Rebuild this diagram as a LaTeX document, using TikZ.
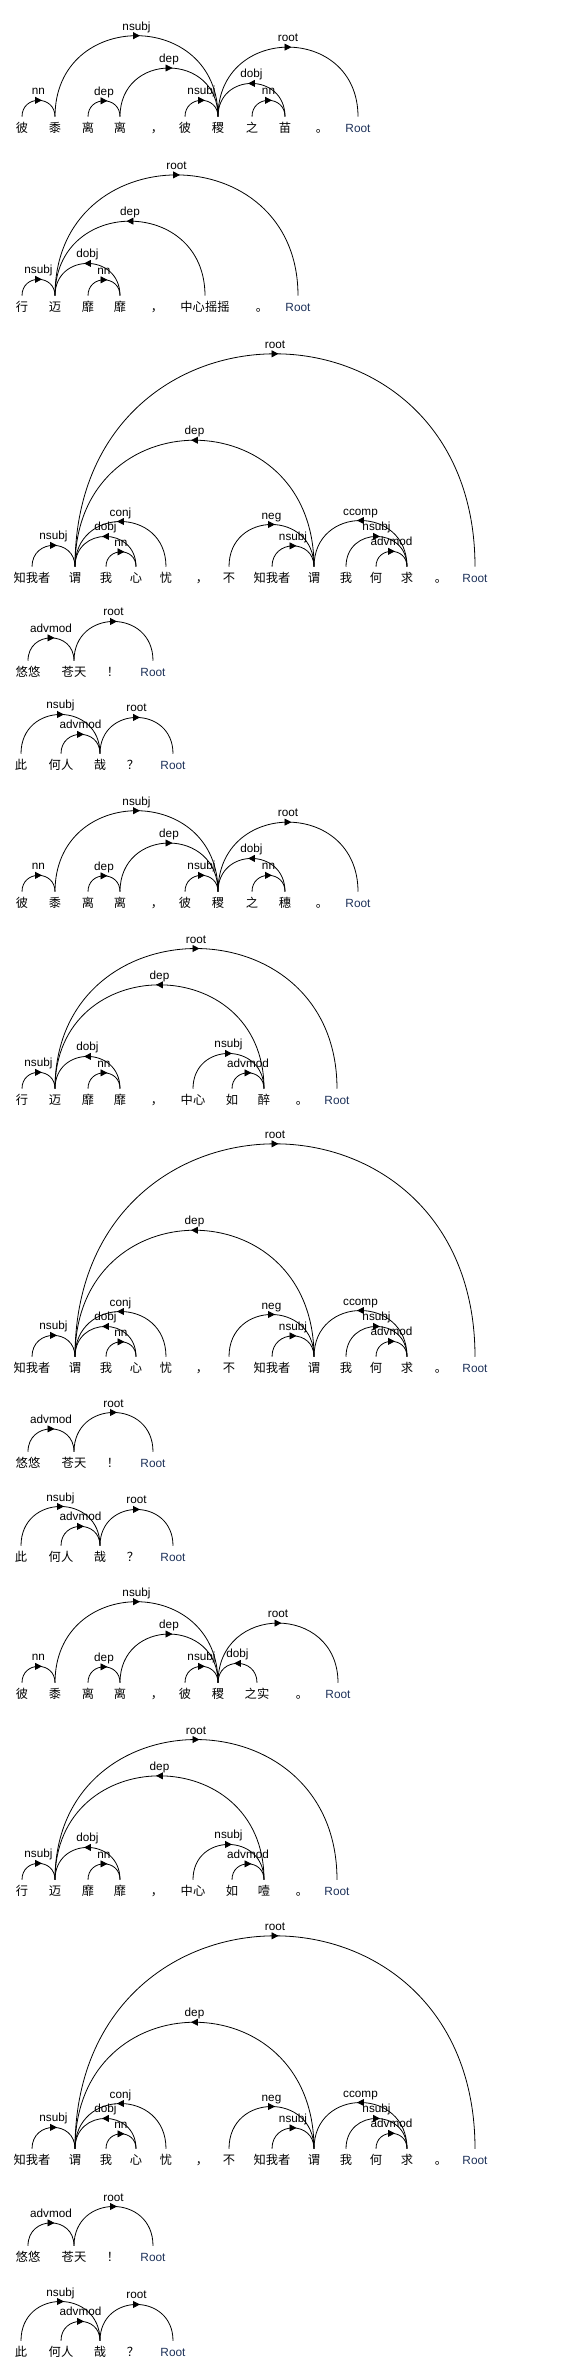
\documentclass[tikz,border=0pt]{standalone}
\usepackage{fontspec}
\setmainfont{Liberation Sans}
\newfontfamily\cjk{Noto Sans CJK SC}
\usetikzlibrary{arrows.meta,decorations.markings}
\definecolor{rootblue}{RGB}{30,50,90}
\def\deparc[#1](#2)(#3)#4{\draw[deprel,#1] (#2.north) to node[rel] {#4} (#3.north);}

\tikzset{
  word/.style={font=\cjk\fontsize{9.2}{11}\selectfont, inner xsep=0pt, inner ysep=4.1pt, text height=7.6pt, text depth=0.7pt},
  punct/.style={word, xshift=3pt},
  rootword/.style={word, font=\fontsize{8.9}{11}\selectfont, text=rootblue},
  rel/.style={font=\fontsize{8.8}{10}\selectfont, inner sep=0pt, text height=6.4pt, text depth=1.9pt, above=1.9pt},
  deprel/.style={line width=0.6pt, out=90, in=90, looseness=1.7, postaction={decorate},
    decoration={markings, mark=at position 0.5 with {\arrow[xshift=2.6pt]{Triangle[length=5.2pt,width=5.2pt]}}}}
}

\begin{document}
\begin{tikzpicture}[x=0.75pt, y=0.75pt]
	\useasboundingbox (0,0) rectangle (581,-2373);
	
	% sentence 1
	\begin{scope}[shift={(0,-128)}]
		\node[word] (s1-1) at (22,0) {彼};
		\node[word] (s1-2) at (55,0) {黍};
		\node[word] (s1-3) at (88,0) {离};
		\node[word] (s1-4) at (120,0) {离};
		\node[punct] (s1-5) at (153,0) {，};
		\node[word] (s1-6) at (185,0) {彼};
		\node[word] (s1-7) at (218,0) {稷};
		\node[word] (s1-8) at (252,0) {之};
		\node[word] (s1-9) at (285,0) {苗};
		\node[punct] (s1-10) at (318,0) {。};
		\node[rootword] (s1-11) at (358,0) {Root};
		\deparc[](s1-1)(s1-2){nn}
		\deparc[](s1-3)(s1-4){dep}
		\deparc[](s1-6)(s1-7){nsubj}
		\deparc[](s1-8)(s1-9){nn}
		\deparc[](s1-9)(s1-7){dobj}
		\deparc[](s1-4)(s1-7){dep}
		\deparc[](s1-7)(s1-11){root}
		\deparc[](s1-2)(s1-7){nsubj}
	\end{scope}
	
	% sentence 2
	\begin{scope}[shift={(0,-307)}]
		\node[word] (s2-1) at (22,0) {行};
		\node[word] (s2-2) at (55,0) {迈};
		\node[word] (s2-3) at (88,0) {靡};
		\node[word] (s2-4) at (120,0) {靡};
		\node[punct] (s2-5) at (153,0) {，};
		\node[word] (s2-6) at (205,0) {中心摇摇};
		\node[punct] (s2-7) at (258,0) {。};
		\node[rootword] (s2-8) at (298,0) {Root};
		\deparc[](s2-1)(s2-2){nsubj}
		\deparc[](s2-3)(s2-4){nn}
		\deparc[](s2-4)(s2-2){dobj}
		\deparc[](s2-6)(s2-2){dep}
		\deparc[](s2-2)(s2-8){root}
	\end{scope}
	
	% sentence 3
	\begin{scope}[shift={(0,-578)}]
		\node[word] (s3-1) at (32,0) {知我者};
		\node[word] (s3-2) at (75,0) {谓};
		\node[word] (s3-3) at (106,0) {我};
		\node[word] (s3-4) at (136,0) {心};
		\node[word] (s3-5) at (166,0) {忧};
		\node[punct] (s3-6) at (198,0) {，};
		\node[word] (s3-7) at (229,0) {不};
		\node[word] (s3-8) at (272,0) {知我者};
		\node[word] (s3-9) at (314,0) {谓};
		\node[word] (s3-10) at (346,0) {我};
		\node[word] (s3-11) at (376,0) {何};
		\node[word] (s3-12) at (407,0) {求};
		\node[punct] (s3-13) at (437,0) {。};
		\node[rootword] (s3-14) at (475,0) {Root};
		\deparc[](s3-1)(s3-2){nsubj}
		\deparc[](s3-3)(s3-4){nn}
		\deparc[](s3-4)(s3-2){dobj}
		\deparc[](s3-5)(s3-2){conj}
		\deparc[](s3-7)(s3-9){neg}
		\deparc[](s3-8)(s3-9){nsubj}
		\deparc[](s3-11)(s3-12){advmod}
		\deparc[](s3-10)(s3-12){nsubj}
		\deparc[](s3-12)(s3-9){ccomp}
		\deparc[looseness=1.81](s3-9)(s3-2){dep}
		\deparc[looseness=1.82](s3-2)(s3-14){root}
	\end{scope}
	
	% sentence 4
	\begin{scope}[shift={(0,-672)}]
		\node[word] (s4-1) at (28,0) {悠悠};
		\node[word] (s4-2) at (74,0) {苍天};
		\node[word] (s4-3) at (113,0) {！};
		\node[rootword] (s4-4) at (153,0) {Root};
		\deparc[](s4-1)(s4-2){advmod}
		\deparc[](s4-2)(s4-4){root}
	\end{scope}
	
	% sentence 5
	\begin{scope}[shift={(0,-765)}]
		\node[word] (s5-1) at (21,0) {此};
		\node[word] (s5-2) at (61,0) {何人};
		\node[word] (s5-3) at (100,0) {哉};
		\node[word] (s5-4) at (133,0) {？};
		\node[rootword] (s5-5) at (173,0) {Root};
		\deparc[](s5-1)(s5-3){nsubj}
		\deparc[](s5-2)(s5-3){advmod}
		\deparc[](s5-3)(s5-5){root}
	\end{scope}
	
	% sentence 6
	\begin{scope}[shift={(0,-903)}]
		\node[word] (s6-1) at (22,0) {彼};
		\node[word] (s6-2) at (55,0) {黍};
		\node[word] (s6-3) at (88,0) {离};
		\node[word] (s6-4) at (120,0) {离};
		\node[punct] (s6-5) at (153,0) {，};
		\node[word] (s6-6) at (185,0) {彼};
		\node[word] (s6-7) at (218,0) {稷};
		\node[word] (s6-8) at (252,0) {之};
		\node[word] (s6-9) at (285,0) {穗};
		\node[punct] (s6-10) at (318,0) {。};
		\node[rootword] (s6-11) at (358,0) {Root};
		\deparc[](s6-1)(s6-2){nn}
		\deparc[](s6-3)(s6-4){dep}
		\deparc[](s6-6)(s6-7){nsubj}
		\deparc[](s6-8)(s6-9){nn}
		\deparc[](s6-9)(s6-7){dobj}
		\deparc[](s6-4)(s6-7){dep}
		\deparc[](s6-7)(s6-11){root}
		\deparc[](s6-2)(s6-7){nsubj}
	\end{scope}
	
	% sentence 7
	\begin{scope}[shift={(0,-1100)}]
		\node[word] (s7-1) at (22,0) {行};
		\node[word] (s7-2) at (55,0) {迈};
		\node[word] (s7-3) at (88,0) {靡};
		\node[word] (s7-4) at (120,0) {靡};
		\node[punct] (s7-5) at (153,0) {，};
		\node[word] (s7-6) at (193,0) {中心};
		\node[word] (s7-7) at (232,0) {如};
		\node[word] (s7-8) at (264,0) {醉};
		\node[punct] (s7-9) at (298,0) {。};
		\node[rootword] (s7-10) at (337,0) {Root};
		\deparc[](s7-1)(s7-2){nsubj}
		\deparc[](s7-3)(s7-4){nn}
		\deparc[](s7-4)(s7-2){dobj}
		\deparc[](s7-6)(s7-8){nsubj}
		\deparc[](s7-7)(s7-8){advmod}
		\deparc[](s7-8)(s7-2){dep}
		\deparc[](s7-2)(s7-10){root}
	\end{scope}
	
	% sentence 8
	\begin{scope}[shift={(0,-1368)}]
		\node[word] (s8-1) at (32,0) {知我者};
		\node[word] (s8-2) at (75,0) {谓};
		\node[word] (s8-3) at (106,0) {我};
		\node[word] (s8-4) at (136,0) {心};
		\node[word] (s8-5) at (166,0) {忧};
		\node[punct] (s8-6) at (198,0) {，};
		\node[word] (s8-7) at (229,0) {不};
		\node[word] (s8-8) at (272,0) {知我者};
		\node[word] (s8-9) at (314,0) {谓};
		\node[word] (s8-10) at (346,0) {我};
		\node[word] (s8-11) at (376,0) {何};
		\node[word] (s8-12) at (407,0) {求};
		\node[punct] (s8-13) at (437,0) {。};
		\node[rootword] (s8-14) at (475,0) {Root};
		\deparc[](s8-1)(s8-2){nsubj}
		\deparc[](s8-3)(s8-4){nn}
		\deparc[](s8-4)(s8-2){dobj}
		\deparc[](s8-5)(s8-2){conj}
		\deparc[](s8-7)(s8-9){neg}
		\deparc[](s8-8)(s8-9){nsubj}
		\deparc[](s8-11)(s8-12){advmod}
		\deparc[](s8-10)(s8-12){nsubj}
		\deparc[](s8-12)(s8-9){ccomp}
		\deparc[looseness=1.81](s8-9)(s8-2){dep}
		\deparc[looseness=1.82](s8-2)(s8-14){root}
	\end{scope}
	
	% sentence 9
	\begin{scope}[shift={(0,-1463)}]
		\node[word] (s9-1) at (28,0) {悠悠};
		\node[word] (s9-2) at (74,0) {苍天};
		\node[word] (s9-3) at (113,0) {！};
		\node[rootword] (s9-4) at (153,0) {Root};
		\deparc[](s9-1)(s9-2){advmod}
		\deparc[](s9-2)(s9-4){root}
	\end{scope}
	
	% sentence 10
	\begin{scope}[shift={(0,-1557)}]
		\node[word] (s10-1) at (21,0) {此};
		\node[word] (s10-2) at (61,0) {何人};
		\node[word] (s10-3) at (100,0) {哉};
		\node[word] (s10-4) at (133,0) {？};
		\node[rootword] (s10-5) at (173,0) {Root};
		\deparc[](s10-1)(s10-3){nsubj}
		\deparc[](s10-2)(s10-3){advmod}
		\deparc[](s10-3)(s10-5){root}
	\end{scope}
	
	% sentence 11
	\begin{scope}[shift={(0,-1694)}]
		\node[word] (s11-1) at (22,0) {彼};
		\node[word] (s11-2) at (55,0) {黍};
		\node[word] (s11-3) at (88,0) {离};
		\node[word] (s11-4) at (120,0) {离};
		\node[punct] (s11-5) at (153,0) {，};
		\node[word] (s11-6) at (185,0) {彼};
		\node[word] (s11-7) at (218,0) {稷};
		\node[word] (s11-8) at (257,0) {之实};
		\node[punct] (s11-9) at (298,0) {。};
		\node[rootword] (s11-10) at (338,0) {Root};
		\deparc[](s11-1)(s11-2){nn}
		\deparc[](s11-3)(s11-4){dep}
		\deparc[](s11-6)(s11-7){nsubj}
		\deparc[](s11-8)(s11-7){dobj}
		\deparc[](s11-4)(s11-7){dep}
		\deparc[](s11-7)(s11-10){root}
		\deparc[](s11-2)(s11-7){nsubj}
	\end{scope}
	
	% sentence 12
	\begin{scope}[shift={(0,-1891)}]
		\node[word] (s12-1) at (22,0) {行};
		\node[word] (s12-2) at (55,0) {迈};
		\node[word] (s12-3) at (88,0) {靡};
		\node[word] (s12-4) at (120,0) {靡};
		\node[punct] (s12-5) at (153,0) {，};
		\node[word] (s12-6) at (193,0) {中心};
		\node[word] (s12-7) at (232,0) {如};
		\node[word] (s12-8) at (264,0) {噎};
		\node[punct] (s12-9) at (298,0) {。};
		\node[rootword] (s12-10) at (337,0) {Root};
		\deparc[](s12-1)(s12-2){nsubj}
		\deparc[](s12-3)(s12-4){nn}
		\deparc[](s12-4)(s12-2){dobj}
		\deparc[](s12-6)(s12-8){nsubj}
		\deparc[](s12-7)(s12-8){advmod}
		\deparc[](s12-8)(s12-2){dep}
		\deparc[](s12-2)(s12-10){root}
	\end{scope}
	
	% sentence 13
	\begin{scope}[shift={(0,-2160)}]
		\node[word] (s13-1) at (32,0) {知我者};
		\node[word] (s13-2) at (75,0) {谓};
		\node[word] (s13-3) at (106,0) {我};
		\node[word] (s13-4) at (136,0) {心};
		\node[word] (s13-5) at (166,0) {忧};
		\node[punct] (s13-6) at (198,0) {，};
		\node[word] (s13-7) at (229,0) {不};
		\node[word] (s13-8) at (272,0) {知我者};
		\node[word] (s13-9) at (314,0) {谓};
		\node[word] (s13-10) at (346,0) {我};
		\node[word] (s13-11) at (376,0) {何};
		\node[word] (s13-12) at (407,0) {求};
		\node[punct] (s13-13) at (437,0) {。};
		\node[rootword] (s13-14) at (475,0) {Root};
		\deparc[](s13-1)(s13-2){nsubj}
		\deparc[](s13-3)(s13-4){nn}
		\deparc[](s13-4)(s13-2){dobj}
		\deparc[](s13-5)(s13-2){conj}
		\deparc[](s13-7)(s13-9){neg}
		\deparc[](s13-8)(s13-9){nsubj}
		\deparc[](s13-11)(s13-12){advmod}
		\deparc[](s13-10)(s13-12){nsubj}
		\deparc[](s13-12)(s13-9){ccomp}
		\deparc[looseness=1.81](s13-9)(s13-2){dep}
		\deparc[looseness=1.82](s13-2)(s13-14){root}
	\end{scope}
	
	% sentence 14
	\begin{scope}[shift={(0,-2257)}]
		\node[word] (s14-1) at (28,0) {悠悠};
		\node[word] (s14-2) at (74,0) {苍天};
		\node[word] (s14-3) at (113,0) {！};
		\node[rootword] (s14-4) at (153,0) {Root};
		\deparc[](s14-1)(s14-2){advmod}
		\deparc[](s14-2)(s14-4){root}
	\end{scope}
	
	% sentence 15
	\begin{scope}[shift={(0,-2352)}]
		\node[word] (s15-1) at (21,0) {此};
		\node[word] (s15-2) at (61,0) {何人};
		\node[word] (s15-3) at (100,0) {哉};
		\node[word] (s15-4) at (133,0) {？};
		\node[rootword] (s15-5) at (173,0) {Root};
		\deparc[](s15-1)(s15-3){nsubj}
		\deparc[](s15-2)(s15-3){advmod}
		\deparc[](s15-3)(s15-5){root}
	\end{scope}
\end{tikzpicture}
\end{document}
